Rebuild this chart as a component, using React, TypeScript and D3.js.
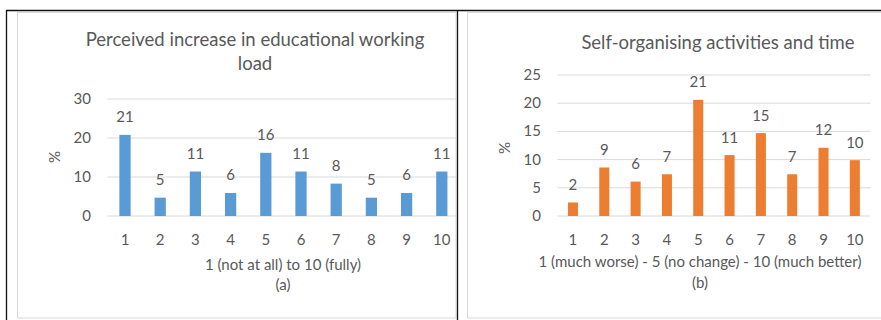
import React from "react";
import * as d3 from "d3";

const categories = ["1", "2", "3", "4", "5", "6", "7", "8", "9", "10"];
const loadValues = [20.8, 4.7, 11.4, 5.9, 16.2, 11.4, 8.3, 4.7, 5.9, 11.4];
const loadLabels = ["21", "5", "11", "6", "16", "11", "8", "5", "6", "11"];
const loadTicks = [0, 10, 20, 30];
const selfValues = [2.4, 8.6, 6.1, 7.4, 20.6, 10.8, 14.7, 7.4, 12.1, 9.9];
const selfLabels = ["2", "9", "6", "7", "21", "11", "15", "7", "12", "10"];
const selfTicks = [0, 5, 10, 15, 20, 25];

const FONT = "Lato, 'Open Sans', sans-serif";
const TEXT = "#595959";
const GRID = "#D9D9D9";
const FS = 15;

type PanelProps = {
  x0: number;
  x1: number;
  yMax: number;
  yTop: number;
  ticks: number[];
  values: number[];
  labels: string[];
  color: string;
  titleLines: string[];
  titleX: number;
  titleY: number[];
  tickX: number;
  pctX: number;
  pctY: number;
  axisTitle: string;
  axisX: number;
  axisY: number;
  sub: string;
  subY: number;
  clipId: string;
  clipX1: number;
};

function Panel(p: PanelProps) {
  const x = d3
    .scaleBand<string>()
    .domain(categories)
    .range([p.x0, p.x1])
    .paddingInner(0.68)
    .paddingOuter(0.34);
  const y = d3.scaleLinear().domain([0, p.yMax]).range([216, p.yTop]);
  return (
    <g fontFamily={FONT} fill={TEXT}>
      <defs>
        <clipPath id={p.clipId}>
          <rect x={0} y={0} width={p.clipX1} height={320} />
        </clipPath>
      </defs>
      {p.titleLines.map((t, i) => (
        <text key={t} x={p.titleX} y={p.titleY[i]} textAnchor="middle" fontSize={18.5}>
          {t}
        </text>
      ))}
      <g clipPath={`url(#${p.clipId})`}>
        {p.ticks.map((t) => (
          <line key={t} x1={p.x0} x2={p.x1} y1={y(t)} y2={y(t)} stroke={GRID} strokeWidth={1} />
        ))}
        {p.values.map((v, i) => (
          <rect
            key={i}
            x={x(categories[i])}
            width={x.bandwidth()}
            y={y(v)}
            height={y(0) - y(v)}
            fill={p.color}
          />
        ))}
      </g>
      {p.ticks.map((t) => (
        <text key={t} x={p.tickX} y={y(t) + 5} textAnchor="end" fontSize={FS}>
          {t}
        </text>
      ))}
      {p.labels.map((l, i) => (
        <text
          key={i}
          x={(x(categories[i]) as number) + x.bandwidth() / 2}
          y={y(p.values[i]) - 12.5}
          textAnchor="middle"
          fontSize={FS}
        >
          {l}
        </text>
      ))}
      {categories.map((c) => (
        <text key={c} x={(x(c) as number) + x.bandwidth() / 2} y={244.5} textAnchor="middle" fontSize={FS}>
          {c}
        </text>
      ))}
      <text
        transform={`translate(${p.pctX},${p.pctY}) rotate(-90)`}
        textAnchor="middle"
        fontSize={FS}
        dy="0.35em"
      >
        %
      </text>
      <text x={p.axisX} y={p.axisY} textAnchor="middle" fontSize={FS}>
        {p.axisTitle}
      </text>
      <text x={p.axisX} y={p.subY} textAnchor="middle" fontSize={FS}>
        {p.sub}
      </text>
    </g>
  );
}

export default function App() {
  return (
    <div style={{ position: "fixed", left: 0, top: 0 }}>
      <svg width={881} height={320} style={{ display: "block", background: "#fff" }}>
        <rect x={17.5} y={12.5} width={438.5} height={305.5} fill="#fff" stroke={GRID} />
        <rect x={467.5} y={12.5} width={420} height={305.5} fill="#fff" stroke={GRID} />
        <line x1={6} x2={881} y1={10.5} y2={10.5} stroke="#111" strokeWidth={1.3} />
        <line x1={6.5} x2={6.5} y1={10} y2={320} stroke="#111" strokeWidth={1.3} />
        <line x1={457.5} x2={457.5} y1={10} y2={320} stroke="#111" strokeWidth={1.3} />
        <Panel
          x0={107.4}
          x1={459.4}
          yMax={30}
          yTop={99}
          ticks={loadTicks}
          values={loadValues}
          labels={loadLabels}
          color="#5B9BD5"
          titleLines={["Perceived increase in educational working", "load"]}
          titleX={255}
          titleY={[46, 70]}
          tickX={91}
          pctX={55}
          pctY={157}
          axisTitle="1 (not at all) to 10 (fully)"
          axisX={283}
          axisY={270}
          sub="(a)"
          subY={290}
          clipId="clipA"
          clipX1={456}
        />
        <Panel
          x0={557.3}
          x1={870.5}
          yMax={25}
          yTop={75}
          ticks={selfTicks}
          values={selfValues}
          labels={selfLabels}
          color="#ED7D31"
          titleLines={["Self-organising activities and time"]}
          titleX={718}
          titleY={[49]}
          tickX={541}
          pctX={505}
          pctY={148}
          axisTitle="1 (much worse) - 5 (no change) - 10 (much better)"
          axisX={700}
          axisY={267}
          sub="(b)"
          subY={287.5}
          clipId="clipB"
          clipX1={881}
        />
      </svg>
    </div>
  );
}
